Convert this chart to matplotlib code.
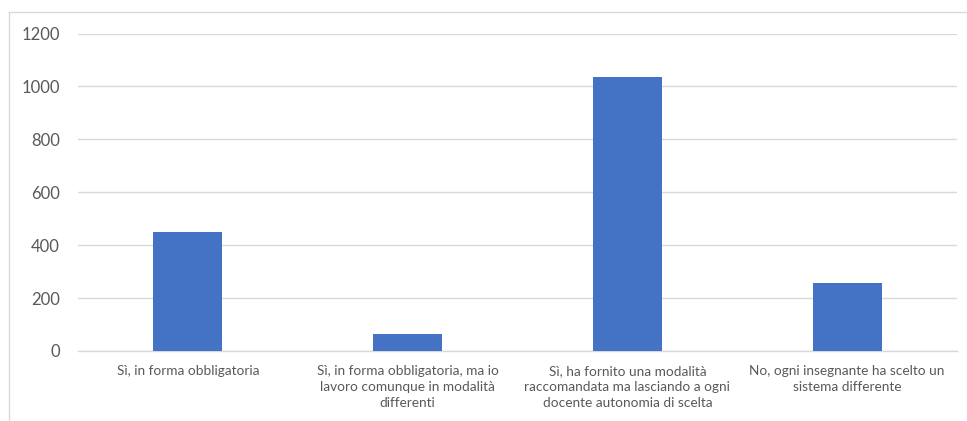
import matplotlib
matplotlib.use("Agg")
import matplotlib.pyplot as plt
from matplotlib.lines import Line2D

categories = [
    "Sì, in forma obbligatoria",
    "Sì, in forma obbligatoria, ma io\nlavoro comunque in modalità\ndifferenti",
    "Sì, ha fornito una modalità\nraccomandata ma lasciando a ogni\ndocente autonomia di scelta",
    "No, ogni insegnante ha scelto un\nsistema differente",
]
values = [450, 65, 1035, 256]
yticks = [0, 200, 400, 600, 800, 1000, 1200]

plt.rcParams['font.family'] = ['Lato', 'DejaVu Sans']

fig = plt.figure(figsize=(9.67, 4.21), dpi=100)
ax = fig.add_axes([0.0807, 0.1663, 0.909, 0.7541])

x = range(len(categories))
ax.bar(x, values, width=0.314, color='#4472C4', zorder=3)

ax.set_xlim(-0.5, len(categories) - 0.5)
ax.set_ylim(0, 1200)
ax.set_yticks(yticks)
ax.set_yticklabels([str(v) for v in yticks], fontsize=12, color='#595959')
ax.set_xticks(list(x))
ax.set_xticklabels(categories, fontsize=9.8, color='#595959', linespacing=1.4)
ax.tick_params(axis='y', length=0, pad=13)
ax.tick_params(axis='x', length=0, pad=10)

ax.grid(axis='y', color='#d9d9d9', linewidth=1, zorder=0)
for s in ['top', 'right', 'left']:
    ax.spines[s].set_visible(False)
ax.spines['bottom'].set_color('#d9d9d9')
ax.spines['bottom'].set_linewidth(1)

# chart frame (cropped at right and bottom)
fig.add_artist(Line2D([8.5 / 967, 1], [1 - 11.5 / 421, 1 - 11.5 / 421], color='#d9d9d9', linewidth=1))
fig.add_artist(Line2D([8.5 / 967, 8.5 / 967], [0, 1 - 11.5 / 421], color='#d9d9d9', linewidth=1))

fig.savefig("out.png", dpi=100)
